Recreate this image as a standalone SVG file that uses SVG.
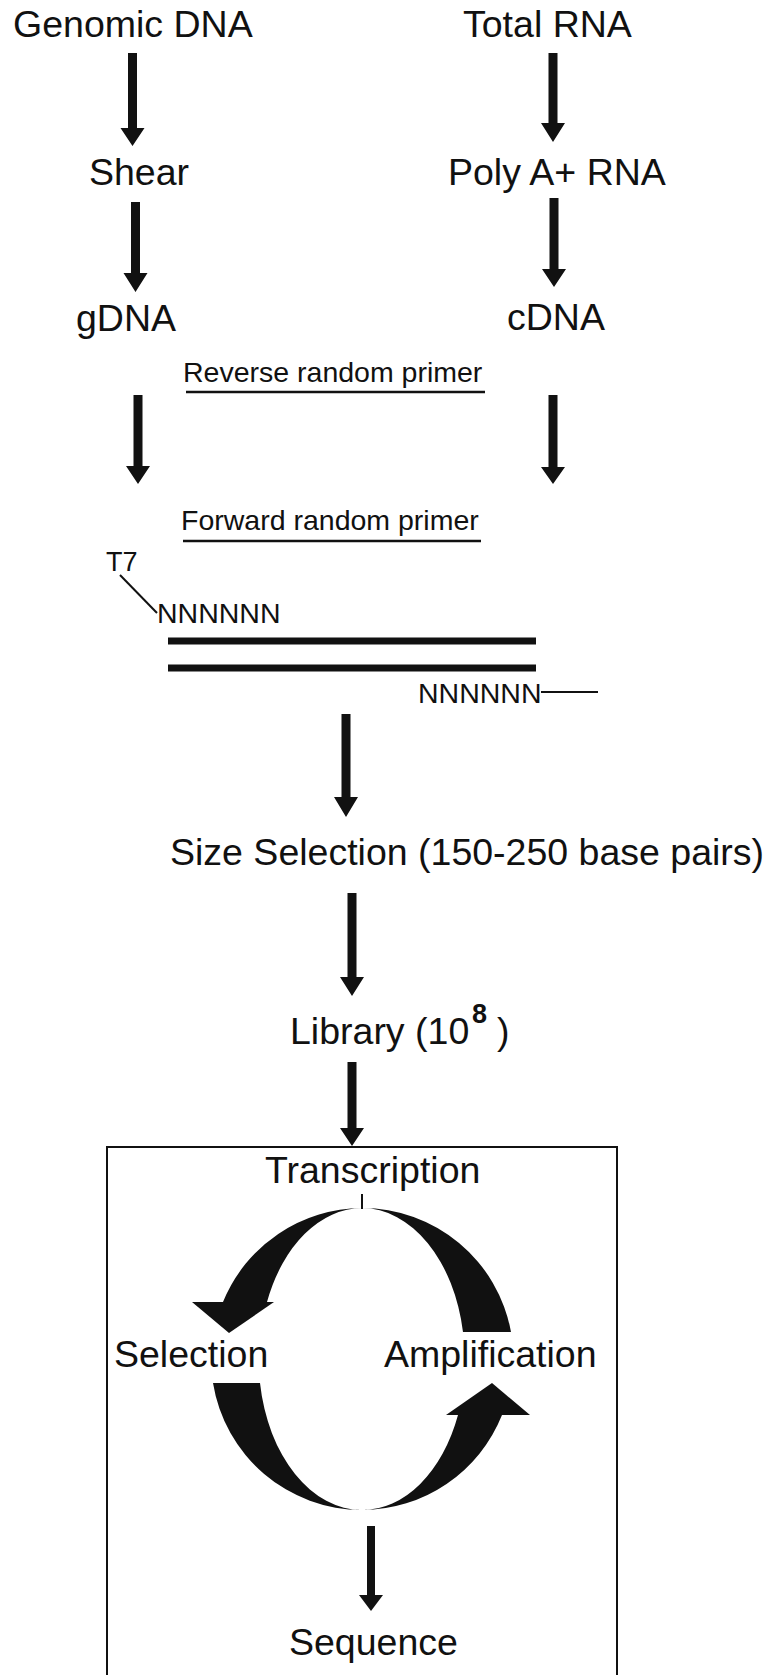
<svg xmlns="http://www.w3.org/2000/svg" width="770" height="1675" viewBox="0 0 770 1675">
<style>
  text { font-family: "Liberation Sans", Arial, sans-serif; fill: #111; }
  .big { font-size: 37.5px; }
  .mid { font-size: 28.5px; }
  .sm { font-size: 27px; }
  .sup { font-size: 27px; font-weight: bold; }
  .arr { fill: #111; }
  .ln { stroke: #111; fill: none; }
  .cyc { fill: #111; }
</style>
<rect width="770" height="1675" fill="#fff"/>

<g id="genomic-dna"><text class="big" x="13" y="37">Genomic DNA</text></g>
<g id="total-rna"><text class="big" x="463" y="37">Total RNA</text></g>
<g id="shear"><text class="big" x="89" y="185">Shear</text></g>
<g id="polya-rna"><text class="big" x="448" y="185">Poly A+ RNA</text></g>
<g id="gdna"><text class="big" x="76" y="331">gDNA</text></g>
<g id="cdna"><text class="big" x="507" y="330">cDNA</text></g>

<g id="reverse-primer">
  <text class="mid" x="183" y="382">Reverse random primer</text>
  <line class="ln" x1="186" y1="392" x2="485" y2="392" stroke-width="2.5"/>
</g>
<g id="forward-primer">
  <text class="mid" x="181" y="530">Forward random primer</text>
  <line class="ln" x1="183" y1="541" x2="481" y2="541" stroke-width="2.5"/>
</g>

<g id="duplex">
  <text class="sm" x="106" y="571">T7</text>
  <line class="ln" x1="120" y1="575" x2="157" y2="613" stroke-width="2"/>
  <text class="mid" x="157" y="623">NNNNNN</text>
  <line class="ln" x1="168" y1="641" x2="536" y2="641" stroke-width="7"/>
  <line class="ln" x1="168" y1="668" x2="536" y2="668" stroke-width="7"/>
  <text class="mid" x="418" y="703">NNNNNN</text>
  <line class="ln" x1="541" y1="692" x2="598" y2="692" stroke-width="2"/>
</g>

<g id="size-selection"><text class="big" x="170" y="865">Size Selection (150-250 base pairs)</text></g>
<g id="library">
  <text class="big" x="290" y="1044">Library (10</text>
  <text class="sup" x="472" y="1023">8</text>
  <text class="big" x="497" y="1044">)</text>
</g>

<g id="cycle-box">
  <rect class="ln" x="107" y="1147" width="510" height="560" stroke-width="2"/>
</g>
<g id="transcription">
  <text class="big" x="265" y="1183">Transcription</text>
  <line class="ln" x1="362" y1="1194" x2="362" y2="1209" stroke-width="2"/>
</g>
<g id="selection"><text class="big" x="114" y="1367">Selection</text></g>
<g id="amplification"><text class="big" x="384" y="1367">Amplification</text></g>
<g id="sequence"><text class="big" x="289" y="1655">Sequence</text></g>

<g id="cycle-arrows">
  <path class="cyc" d="M362 1208 A151 151 0 0 0 223 1302 L267 1302 A103 151 0 0 1 362 1208 Z"/>
  <path class="cyc" d="M192 1302 L274 1302 L229 1333 Z"/>
  <path class="cyc" d="M362 1208 A151 151 0 0 1 511 1332 L463 1332 A103 151 0 0 0 362 1208 Z"/>
  <path class="cyc" d="M213 1383 A151 151 0 0 0 362 1510 A103 151 0 0 1 260 1383 Z"/>
  <path class="cyc" d="M362 1510 A151 151 0 0 0 502 1415 L458 1415 A103 151 0 0 1 362 1510 Z"/>
  <path class="cyc" d="M446 1415 L530 1415 L492 1383 Z"/>
</g>

<g id="connectors">
  <path class="arr" d="M128 53H137V128H144.5L132.5 146L120.5 128H128Z"/>
  <path class="arr" d="M131 202H140V273H147.5L135.5 292L123.5 273H131Z"/>
  <path class="arr" d="M133.5 395H142.5V466H150L138 484L126 466H133.5Z"/>
  <path class="arr" d="M548.5 53H557.5V123H565L553 142L541 123H548.5Z"/>
  <path class="arr" d="M549.5 198H558.5V269H566L554 287L542 269H549.5Z"/>
  <path class="arr" d="M548.5 395H557.5V467H565L553 484L541 467H548.5Z"/>
  <path class="arr" d="M341.5 714H350.5V797H358L346 817L334 797H341.5Z"/>
  <path class="arr" d="M347.5 893H356.5V977H364L352 996L340 977H347.5Z"/>
  <path class="arr" d="M347.5 1062H356.5V1128H364L352 1146L340 1128H347.5Z"/>
  <path class="arr" d="M367 1526H375V1595H383L371 1611L359 1595H367Z"/>
</g>
</svg>
